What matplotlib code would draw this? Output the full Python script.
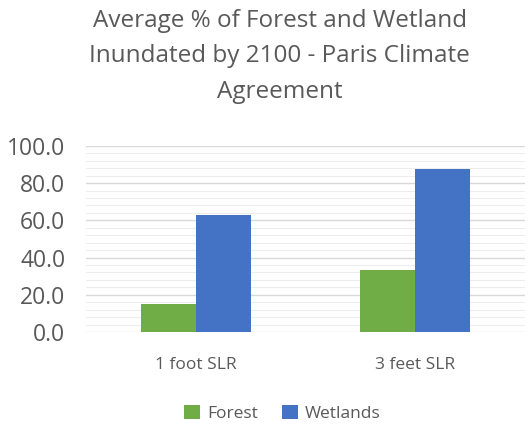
import numpy as np
import matplotlib.pyplot as plt
from matplotlib.ticker import MultipleLocator

# average % inundated by 2100
categories = ['1 foot SLR', '3 feet SLR']
forest = [15.0, 33.2]
wetlands = [63.1, 87.5]

plt.rcParams['font.family'] = ['Open Sans', 'DejaVu Sans']
txt = '#595959'

fig = plt.figure(figsize=(5.28, 4.24), dpi=100)
ax = fig.add_axes([0.163, 0.217, 0.831, 0.439])

x = np.arange(len(categories))
w = 0.25
ax.bar(x - w / 2, forest, w, color='#70AD47', label='Forest', zorder=3)
ax.bar(x + w / 2, wetlands, w, color='#4472C4', label='Wetlands', zorder=3)

ax.set_xlim(-0.5, 1.5)
ax.set_ylim(0, 100)
ax.yaxis.set_major_locator(MultipleLocator(20))
ax.yaxis.set_minor_locator(MultipleLocator(4))
ax.yaxis.set_major_formatter(lambda v, p: f'{v:.1f}')
ax.grid(axis='y', which='major', color='#D9D9D9', lw=1, zorder=0)
ax.grid(axis='y', which='minor', color='#EDEDED', lw=0.8, zorder=0)
ax.set_xticks(x)
ax.set_xticklabels(categories)
ax.tick_params(axis='y', which='both', length=0, labelsize=16.5, labelcolor=txt, pad=15)
ax.tick_params(axis='x', length=0, labelsize=12.5, labelcolor=txt, pad=18)
for s in ax.spines.values():
    s.set_visible(False)

fig.text(0.53, 0.978, 'Average % of Forest and Wetland\nInundated by 2100 - Paris Climate\nAgreement',
         ha='center', va='top', fontsize=17.5, color=txt, linespacing=1.62)

fig.legend(loc='center', bbox_to_anchor=(0.535, 0.025), ncol=2, frameon=False,
           fontsize=12.5, labelcolor=txt, handlelength=0.9, handleheight=0.9,
           handletextpad=0.4, columnspacing=1.4)

fig.savefig('out.png', dpi=100)
